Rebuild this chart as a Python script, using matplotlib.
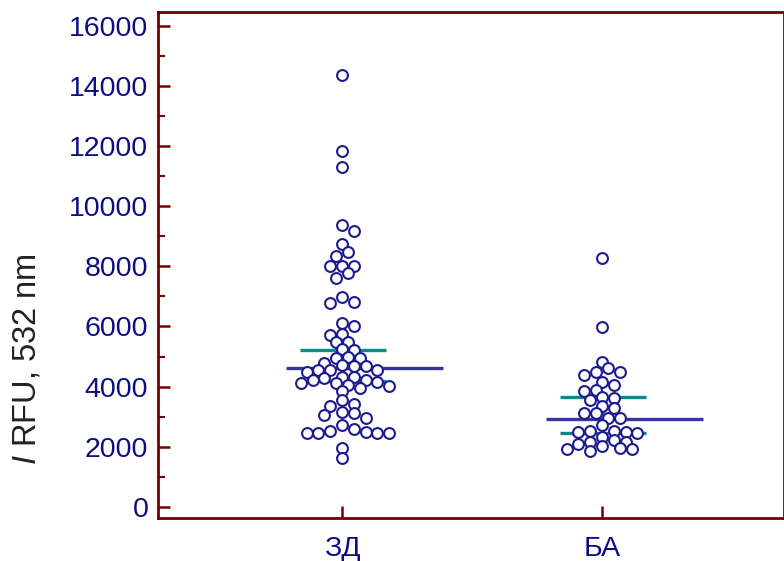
import numpy as np
import matplotlib
matplotlib.use("Agg")
import matplotlib.pyplot as plt
from matplotlib.ticker import MultipleLocator

# ---- data ----
categories = ["ЗД", "БА"]
zd_values = [14370, 11840, 11310, 9360, 9160, 8740, 8490, 8330, 8020, 8020, 8020,
             7780, 7610, 6980, 6830, 6780, 6110, 6000, 5750, 5720, 5500, 5470,
             5250, 5220, 4980, 4950, 4950, 4780, 4710, 4690, 4690, 4560, 4540,
             4540, 4500, 4330, 4310, 4280, 4230, 4230, 4170, 4120, 4120, 4060,
             4030, 3950, 3840, 3540, 3430, 3340, 3140, 3120, 3060, 2950, 2730,
             2450, 2470, 2470, 2470, 2500, 2540, 2580, 1950, 1620]
ba_values = [8270, 5970, 4830, 4610, 4500, 4500, 4390, 4170, 4040, 3890, 3860,
             3670, 3620, 3560, 3340, 3280, 3120, 3120, 2970, 2970, 2730, 2450,
             2490, 2500, 2530, 2530, 2340, 2230, 2170, 2170, 2090, 2010, 1950,
             1930, 1930, 1860]
group_values = [zd_values, ba_values]
mean_values = [4620, 2930]
ci_low = [4190, 2470]
ci_high = [5220, 3640]
yticks = [0, 2000, 4000, 6000, 8000, 10000, 12000, 14000, 16000]

# ---- style ----
plt.rcParams['font.family'] = ['Liberation Sans', 'DejaVu Sans']
plt.rcParams['mathtext.fontset'] = 'custom'
plt.rcParams['mathtext.it'] = 'Liberation Sans:italic'
plt.rcParams['mathtext.rm'] = 'Liberation Sans'

spine_col = '#720000'
tick_col = '#0c0c86'
pt_col = '#1c1c90'
mean_col = '#36369a'
ci_col = '#108888'
fs = 20.5

fig = plt.figure(figsize=(7.84, 5.61), dpi=100)
ax = fig.add_axes([158 / 784, 43 / 561, 625.5 / 784, 506 / 561])
ax.set_xlim(-0.708, 1.698)
ax.set_ylim(-370, 16460)

for s in ax.spines.values():
    s.set_color(spine_col)
    s.set_linewidth(2.0)

ax.set_yticks(yticks)
ax.yaxis.set_minor_locator(MultipleLocator(1000))
ax.set_xticks(range(len(categories)))
ax.set_xticklabels(categories)
ax.tick_params(axis='both', which='major', direction='in', length=8.5, width=1.8,
               color=spine_col, labelcolor=tick_col, labelsize=fs)
ax.tick_params(axis='y', which='minor', direction='in', length=4.8, width=1.5,
               color=spine_col)
ax.tick_params(axis='y', which='major', pad=7)
ax.tick_params(axis='x', which='major', pad=13)
ax.tick_params(axis='x', which='minor', bottom=False)
ax.set_ylabel(r"$\mathit{I}$ RFU, 532 nm", fontsize=23.5, color='#222222')
ax.yaxis.set_label_coords((43 - 158) / 625.5, (518 - 359) / 506)

# ---- summary lines ----
for i in range(len(categories)):
    ax.plot([i - 0.215, i + 0.388], [mean_values[i]] * 2, color=mean_col, lw=2.4,
            solid_capstyle='butt', zorder=2)
    ax.plot([i - 0.16, i + 0.17], [ci_low[i]] * 2, color=ci_col, lw=2.4,
            solid_capstyle='butt', zorder=2)
    ax.plot([i - 0.16, i + 0.17], [ci_high[i]] * 2, color=ci_col, lw=2.4,
            solid_capstyle='butt', zorder=2)
    ax.plot([i + 0.003, i + 0.003], [ci_low[i], ci_high[i]], color=ci_col, lw=2.0,
            zorder=2)

# ---- swarm layout computed in pixel space ----
d = 11.8  # marker diameter in px
fig.canvas.draw()
tr = ax.transData
inv = tr.inverted()
for i, vals in enumerate(group_values):
    vals = sorted(vals, reverse=True)
    cx = tr.transform((i, 0))[0]
    placed = []
    xs_data, ys_data = [], []
    for v in vals:
        py = tr.transform((i, v))[1]
        ks = [0]
        for k in range(1, 30):
            ks += [k, -k]
        for k in ks:
            px = cx + k * d / 2
            ok = True
            for (qx, qy) in placed:
                if (px - qx) ** 2 + (py - qy) ** 2 < (0.72 * d) ** 2:
                    ok = False
                    break
            if ok:
                break
        placed.append((px, py))
        xd, yd = inv.transform((px, py))
        xs_data.append(xd)
        ys_data.append(v)
    ax.plot(xs_data, ys_data, linestyle='none', marker='o', markersize=7.8,
            markerfacecolor='white', markeredgecolor=pt_col, markeredgewidth=1.5,
            zorder=3)

fig.savefig("out.png", dpi=100)
